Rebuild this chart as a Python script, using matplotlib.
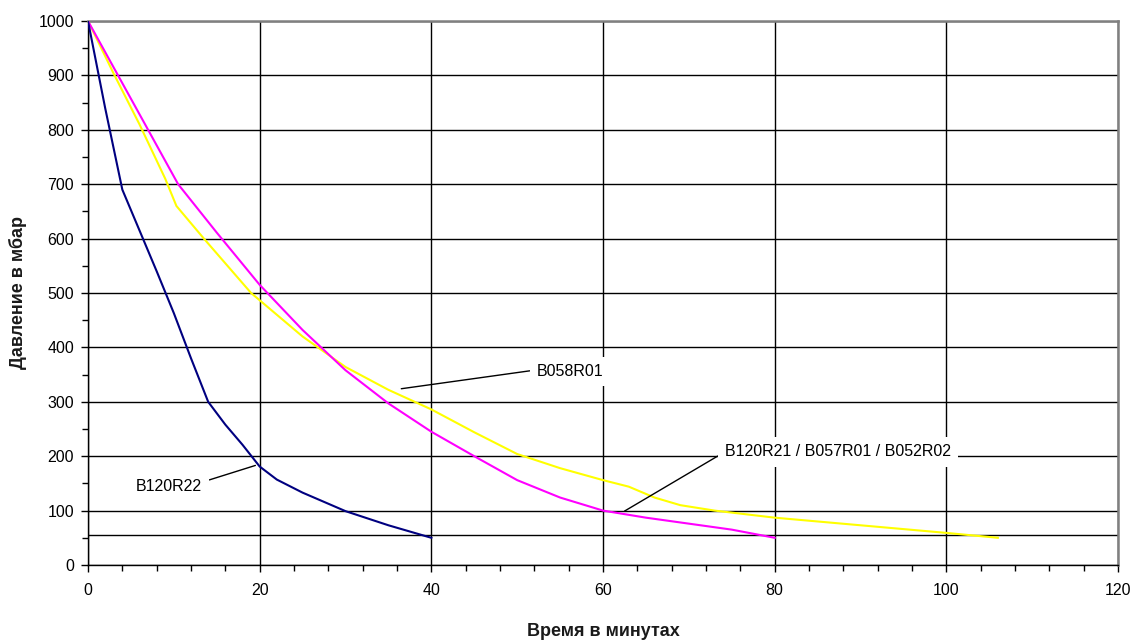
"""Pump-down curves: pressure (mbar) vs. time (minutes) for several pump models."""
import matplotlib
matplotlib.use("Agg")
import matplotlib.pyplot as plt
from matplotlib.ticker import MultipleLocator

plt.rcParams["font.family"] = ["Liberation Sans", "DejaVu Sans"]

# B120R22 (navy)
t_b120r22 = [0, 2, 4, 6, 8, 10, 12, 14, 16, 18, 20, 22, 25, 30, 35, 40]
p_b120r22 = [1000, 840, 690, 615, 540, 463, 380, 300, 258, 221, 181, 157, 133, 99, 73, 50]

# B120R21 / B057R01 / B052R02 (magenta)
t_b120r21 = [0, 3.5, 7, 10.5, 15, 20, 25, 30, 35, 40, 45, 50, 55, 60, 65, 70, 75, 80]
p_b120r21 = [1000, 900, 800, 700, 611, 515, 432, 358, 297, 245, 200, 156, 124, 100, 87, 76, 65, 50]

# B058R01 (yellow)
t_b058r01 = [0, 3, 6, 9, 10.3, 13.5, 19, 25, 30, 35, 40, 45, 50, 55, 60, 63, 66, 69, 73, 80, 90, 100, 106]
p_b058r01 = [1000, 903, 810, 710, 660, 600, 500, 420, 364, 322, 286, 244, 204, 178, 156, 144, 124, 110,
             100, 87, 73, 59, 50]

THRESHOLD = 55  # extra horizontal reference line

X_TICKS = [0, 20, 40, 60, 80, 100, 120]
Y_TICKS = [0, 100, 200, 300, 400, 500, 600, 700, 800, 900, 1000]


def main() -> None:
    fig = plt.figure(figsize=(11.34, 6.4), dpi=100)
    fig.patch.set_facecolor("white")
    ax = fig.add_axes([0.0776, 0.1172, 0.9083, 0.8500])

    ax.set_xlim(0, 120)
    ax.set_ylim(0, 1000)
    ax.set_xticks(X_TICKS)
    ax.set_yticks(Y_TICKS)
    ax.xaxis.set_minor_locator(MultipleLocator(4))
    ax.yaxis.set_minor_locator(MultipleLocator(50))
    ax.tick_params(axis="both", which="major", direction="out", length=5,
                   width=1, labelsize=11.5, colors="black")
    ax.tick_params(axis="both", which="minor", direction="out", length=4, width=1)
    ax.tick_params(axis="x", which="major", pad=8)
    ax.tick_params(axis="y", which="major", pad=5)

    ax.grid(which="major", color="black", linewidth=1.0)
    ax.set_axisbelow(True)
    ax.axhline(THRESHOLD, color="black", linewidth=1.0, zorder=1)

    for s in ("left", "bottom"):
        ax.spines[s].set_color("black")
        ax.spines[s].set_linewidth(1.0)
    for s in ("top", "right"):
        ax.spines[s].set_color("#808080")
        ax.spines[s].set_linewidth(1.8)

    ax.plot(t_b058r01, p_b058r01, color="#FFFF00", linewidth=1.5, zorder=3)
    ax.plot(t_b120r21, p_b120r21, color="#FF00FF", linewidth=1.5, zorder=3)
    ax.plot(t_b120r22, p_b120r22, color="#000080", linewidth=1.5, zorder=4)

    box = dict(boxstyle="square,pad=0.45", facecolor="white", edgecolor="none")
    line = dict(arrowstyle="-", color="black", linewidth=1.0, shrinkA=0, shrinkB=0)

    ax.annotate("B058R01", xy=(36.5, 324), xytext=(52.3, 356), fontsize=11.5,
                ha="left", va="center", bbox=box,
                arrowprops=dict(line, relpos=(0, 0.6)), zorder=5)
    ax.annotate("B120R21 / B057R01 / B052R02", xy=(62.5, 99), xytext=(74.2, 208),
                fontsize=11.5, ha="left", va="center", bbox=box,
                arrowprops=dict(line, relpos=(0, 0.5)), zorder=5)
    ax.annotate("B120R22", xy=(19.5, 183), xytext=(13.3, 144), fontsize=11.5,
                ha="right", va="center", bbox=box,
                arrowprops=dict(line, relpos=(1, 0.8)), zorder=5)

    ax.set_xlabel("Время в минутах", fontsize=13, fontweight="bold",
                  color="#1a1a1a", labelpad=18)
    ax.set_ylabel("Давление в мбар", fontsize=13, fontweight="bold",
                  color="#1a1a1a", labelpad=8)

    fig.savefig("out.png", dpi=100, facecolor="white")


if __name__ == "__main__":
    main()
